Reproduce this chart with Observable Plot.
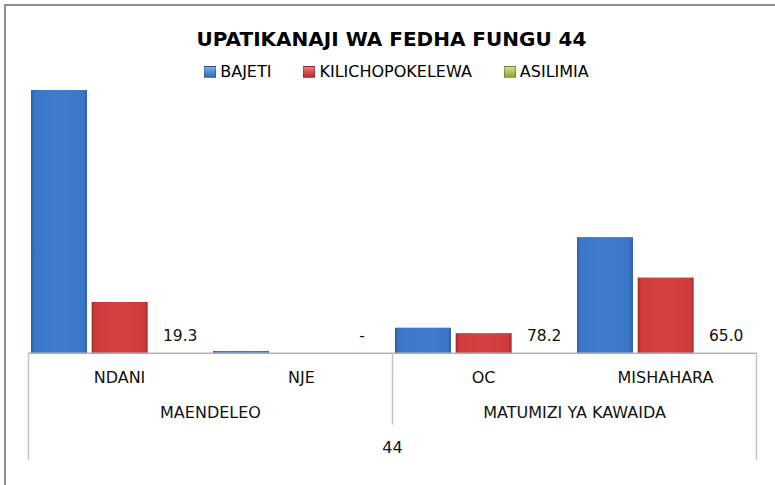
<!DOCTYPE html>
<html>
<head>
<meta charset="utf-8">
<script src="https://cdn.jsdelivr.net/npm/d3@7"></script>
<script src="https://cdn.jsdelivr.net/npm/@observablehq/plot@0.6"></script>
<style>
  html, body { margin: 0; padding: 0; background: #fff; overflow: hidden; }
  body { width: 775px; height: 485px; position: relative; font-family: "DejaVu Sans", sans-serif; color: #000; }
  #topline { position: absolute; left: 4px; top: 4px; width: 771px; height: 2px; background: #8f8f8f; }
  #leftline { position: absolute; left: 4px; top: 4px; width: 2px; height: 481px; background: #8f8f8f; }
  #title { height: 30px; padding-top: 24px; line-height: 30px; text-align: center; padding-left: 8px; font-weight: bold; font-size: 20px; }
  #legend { height: 26px; padding-top: 5px; line-height: 26px; text-align: center; padding-left: 18px; font-size: 16px; white-space: nowrap; }
  .item { display: inline-flex; align-items: center; margin: 0 16px; }
  .sw { width: 10px; height: 10px; margin-right: 4px; border: 0.5px solid rgba(0,0,0,0.25); }
  #chart { position: relative; width: 775px; height: 400px; overflow: hidden; }
  #chart svg { display: block; }
</style>
</head>
<body>
<div id="title"></div>
<div id="legend"></div>
<div id="chart"></div>
<div id="topline"></div>
<div id="leftline"></div>
<script>
// ---- data ----
const titleText = "UPATIKANAJI WA FEDHA FUNGU 44";
const categories = ["NDANI", "NJE", "OC", "MISHAHARA"];
const groups = ["MAENDELEO", "MATUMIZI YA KAWAIDA"];
const fungu = ["44"];
const series = ["BAJETI", "KILICHOPOKELEWA", "ASILIMIA"];
const bajeti = [50000, 330, 4760, 22000];
const kilichopokelewa = [9650, 0, 3720, 14300];
const asilimia = [19.3, null, 78.2, 65.0];

const seriesValues = [bajeti, kilichopokelewa];
const seriesFill = ["url(#gBlue)", "url(#gRed)"];
const swatchCss = [
  "linear-gradient(#7fb0ea, #2f68b8)",
  "linear-gradient(#ee7b7b, #b82828)",
  "linear-gradient(#cde08f, #8aa83c)"
];

// bar rows (BAJETI, KILICHOPOKELEWA); ASILIMIA is shown as its value label
const rows = categories.flatMap((c, i) =>
  seriesValues.map((vals, j) => ({category: c, series: series[j], slot: i * 3 + j, value: vals[i]}))
);

// ---- title & legend ----
document.getElementById("title").textContent = titleText;
const legend = document.getElementById("legend");
series.forEach((s, j) => {
  const it = document.createElement("span");
  it.className = "item";
  const sw = document.createElement("span");
  sw.className = "sw";
  sw.style.background = swatchCss[j];
  const tx = document.createElement("span");
  tx.textContent = s;
  it.appendChild(sw); it.appendChild(tx);
  legend.appendChild(it);
});

// ---- chart ----
const font = "DejaVu Sans, sans-serif";
const plot = Plot.plot({
  width: 775,
  height: 400,
  marginTop: 5,
  marginLeft: 28,
  marginRight: 19,
  marginBottom: 132.3,
  style: {fontFamily: font, background: "transparent"},
  x: {type: "linear", domain: [0, 12], axis: null},
  y: {domain: [0, 50000], axis: null},
  marks: [
    ...seriesValues.map((v, j) => Plot.rectY(rows.filter(d => d.series === series[j]), {
      x1: "slot", x2: d => d.slot + 1, y: "value",
      fill: seriesFill[j], insetLeft: 3, insetRight: 1.7
    })),
    Plot.ruleY([0], {stroke: "#8c8c8c", strokeWidth: 1}),
    Plot.ruleX([0, 12], {y1: 0, y2: 0, insetBottom: -107, stroke: "#c4c4c4", strokeWidth: 1.5}),
    Plot.ruleX([6], {y1: 0, y2: 0, insetBottom: -72, stroke: "#c4c4c4", strokeWidth: 1.5}),
    Plot.text(categories, {x: (d, i) => i * 3 + 1.5, y: 0, text: d => d, dy: 25, fontSize: 16, fill: "#111"}),
    Plot.text(groups, {x: (d, i) => i * 6 + 3, y: 0, text: d => d, dy: 60, fontSize: 16, fill: "#111"}),
    Plot.text(fungu, {x: 6, y: 0, text: d => d, dy: 95, fontSize: 16, fill: "#111"}),
    Plot.text(categories, {
      x: (d, i) => i * 3 + 2.5, y: 0,
      text: (d, i) => asilimia[i] == null ? "-" : d3.format(".1f")(asilimia[i]),
      dy: -17, fontSize: 15.5, fill: "#111"
    })
  ]
});

// gradient definitions for bevel-like bars
const svg = d3.select(plot);
const defs = svg.insert("defs", ":first-child");
function grad(id, edge, mid, light) {
  const g = defs.append("linearGradient").attr("id", id).attr("x1", "0").attr("x2", "1").attr("y1", "0").attr("y2", "0");
  [[0, edge], [0.06, mid], [0.5, light], [0.94, mid], [1, edge]].forEach(([o, c]) =>
    g.append("stop").attr("offset", o).attr("stop-color", c));
}
grad("gBlue", "#2c5f9f", "#3a77c8", "#3f7ccd");
grad("gRed", "#9e2a2a", "#cf3b3b", "#d64242");

document.getElementById("chart").appendChild(plot);
</script>
</body>
</html>
